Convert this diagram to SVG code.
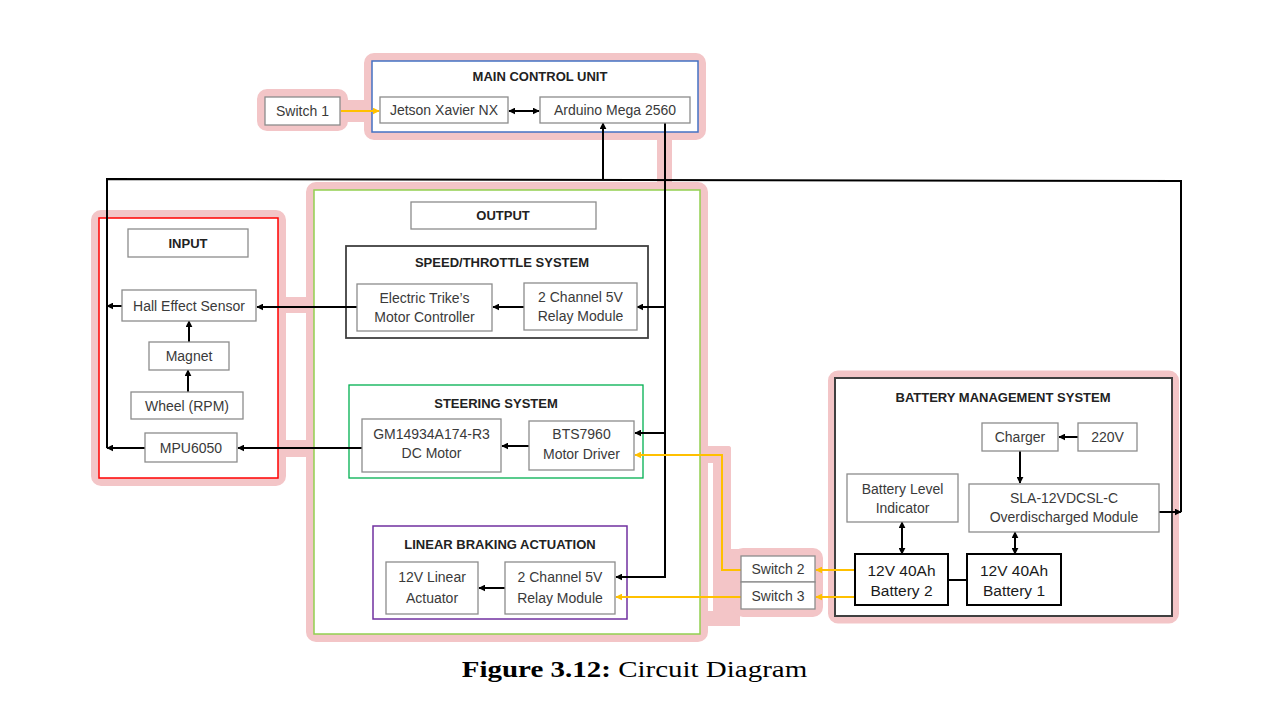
<svg xmlns="http://www.w3.org/2000/svg" width="1283" height="706" viewBox="0 0 1283 706">
<defs>
<style>
.box{fill:#fff;stroke:#8c8c8c;stroke-width:1.3}
.t{font-family:"Liberation Sans",Arial,sans-serif;font-size:14px;fill:#3a3a3a;text-anchor:middle;dominant-baseline:central}
.tb{font-weight:bold;font-size:13px;fill:#222}
.bt{font-size:15.5px;fill:#1a1a1a}
.pink{fill:none;stroke:#f3c5c7;stroke-width:8}
.pinkf{fill:#f3c5c7}
.c{fill:none;stroke:#000;stroke-width:2}
.cy{fill:none;stroke:#ffc000;stroke-width:2}
</style>
<marker id="ah" viewBox="0 0 10 10" refX="9" refY="5" markerWidth="7" markerHeight="7" markerUnits="userSpaceOnUse" orient="auto-start-reverse"><path d="M0,0 L10,5 L0,10 z" fill="#000"/></marker>
<marker id="ay" viewBox="0 0 10 10" refX="9" refY="5" markerWidth="7" markerHeight="7" markerUnits="userSpaceOnUse" orient="auto"><path d="M0,0 L10,5 L0,10 z" fill="#ffc000"/></marker>
</defs>
<rect width="1283" height="706" fill="#fff"/>

<g id="highlights">
<rect class="pink" x="368" y="57" width="334" height="79" rx="6"/>
<rect class="pink" x="261" y="93" width="83" height="34" rx="6"/>
<rect class="pinkf" x="344" y="100" width="26" height="22"/>
<rect class="pinkf" x="657" y="134" width="15" height="56"/>
<rect class="pink" x="95" y="214" width="187" height="268" rx="6"/>
<rect class="pinkf" x="280" y="297" width="32" height="16"/>
<rect class="pinkf" x="280" y="440" width="32" height="17"/>
<rect class="pink" x="310" y="186" width="394" height="452" rx="6"/>
<rect class="pinkf" x="704" y="446" width="27" height="17" rx="3"/>
<rect class="pinkf" x="713" y="446" width="18" height="115" rx="3"/>
<rect class="pinkf" x="713" y="549" width="27" height="76"/>
<rect class="pinkf" x="704" y="611" width="36" height="15"/>
<rect class="pink" x="737" y="552" width="82" height="61" rx="6"/>
<rect class="pink" x="832" y="374.5" width="343" height="245" rx="6"/>
</g>

<g id="main-control-unit">
<rect x="372" y="61" width="326" height="71" fill="#fff" stroke="#4472c4" stroke-width="1.5"/>
<text class="t tb" x="540" y="76">MAIN CONTROL UNIT</text>
</g>
<g id="input">
<rect x="99" y="218" width="179" height="260" fill="#fff" stroke="#ff0000" stroke-width="1.5"/>
</g>
<g id="output">
<rect x="314" y="190" width="386" height="444" fill="#fff" stroke="#92d050" stroke-width="1.5"/>
</g>
<g id="speed-throttle-system">
<rect x="346" y="246" width="302" height="92" fill="#fff" stroke="#404040" stroke-width="1.8"/>
<text class="t tb" x="502" y="262">SPEED/THROTTLE SYSTEM</text>
</g>
<g id="steering-system">
<rect x="349" y="385" width="294" height="93" fill="#fff" stroke="#00b050" stroke-width="1.3"/>
<text class="t tb" x="496" y="403">STEERING SYSTEM</text>
</g>
<g id="linear-braking-actuation">
<rect x="373" y="526" width="254" height="93" fill="#fff" stroke="#7030a0" stroke-width="1.5"/>
<text class="t tb" x="500" y="544">LINEAR BRAKING ACTUATION</text>
</g>
<g id="battery-management-system">
<rect x="835" y="378" width="337" height="238" fill="#fff" stroke="#404040" stroke-width="2"/>
<text class="t tb" x="1003" y="397">BATTERY MANAGEMENT SYSTEM</text>
</g>

<g id="connectors">
<path class="cy" d="M341,111 H379" marker-end="url(#ay)"/>
<path class="c" d="M509,111 H539" marker-start="url(#ah)" marker-end="url(#ah)"/>
<path class="c" d="M603,180 V123" stroke-width="2.4" marker-end="url(#ah)"/>
<path class="c" d="M107,448 V179 L1181,181 V512"/>
<path class="c" d="M122,306 H107" marker-end="url(#ah)"/>
<path class="c" d="M145,448 H107" marker-end="url(#ah)"/>
<path class="c" d="M665,123 V577 H616" stroke-width="1.6" marker-end="url(#ah)"/>
<path class="c" d="M665,307 H637" marker-end="url(#ah)"/>
<path class="c" d="M665,433 H635" marker-end="url(#ah)"/>
<path class="c" d="M524,307 H493" marker-end="url(#ah)"/>
<path class="c" d="M357,307 H257" marker-end="url(#ah)"/>
<path class="c" d="M189,342 V321" marker-end="url(#ah)"/>
<path class="c" d="M188,392 V370" marker-end="url(#ah)"/>
<path class="c" d="M529,446 H502" marker-end="url(#ah)"/>
<path class="c" d="M362,448 H238" marker-end="url(#ah)"/>
<path class="cy" d="M741,570 H722 V455 H635" marker-end="url(#ay)"/>
<path class="cy" d="M741,597 H616" marker-end="url(#ay)"/>
<path class="c" d="M505,588 H479" marker-end="url(#ah)"/>
<path class="c" d="M1078,437 H1059" marker-end="url(#ah)"/>
<path class="c" d="M1020,451 V483" marker-end="url(#ah)"/>
<path class="c" d="M1159,512 H1181" marker-end="url(#ah)"/>
<path class="c" d="M902,522 V554" marker-start="url(#ah)" marker-end="url(#ah)"/>
<path class="c" d="M1015,532 V554" marker-start="url(#ah)" marker-end="url(#ah)"/>
<path class="cy" d="M855,570 H816" marker-end="url(#ay)"/>
<path class="cy" d="M855,597 H816" marker-end="url(#ay)"/>
<path class="c" d="M948,580 H967"/>
</g>

<g id="switch-1"><rect class="box" x="265" y="97" width="75" height="28"/><text class="t" x="302.5" y="111">Switch 1</text></g>
<g id="jetson"><rect class="box" x="380" y="97" width="128" height="26"/><text class="t" x="444" y="110">Jetson Xavier NX</text></g>
<g id="arduino"><rect class="box" x="540" y="97" width="150" height="26"/><text class="t" x="615" y="110">Arduino Mega 2560</text></g>

<g id="input-label"><rect class="box" x="128" y="229" width="120" height="28"/><text class="t tb" x="188" y="243">INPUT</text></g>
<g id="hall-effect-sensor"><rect class="box" x="122" y="290" width="134" height="31"/><text class="t" x="189" y="305.5">Hall Effect Sensor</text></g>
<g id="magnet"><rect class="box" x="149" y="342" width="80" height="28"/><text class="t" x="189" y="356">Magnet</text></g>
<g id="wheel"><rect class="box" x="131" y="392" width="112" height="27"/><text class="t" x="187" y="405.5">Wheel (RPM)</text></g>
<g id="mpu6050"><rect class="box" x="145" y="433" width="92" height="29"/><text class="t" x="191" y="447.5">MPU6050</text></g>

<g id="output-label"><rect class="box" x="411" y="202" width="185" height="27"/><text class="t tb" x="503" y="215.5">OUTPUT</text></g>
<g id="motor-controller"><rect class="box" x="357" y="284" width="135" height="47"/><text class="t" x="424.5" y="298">Electric Trike’s</text><text class="t" x="424.5" y="317">Motor Controller</text></g>
<g id="relay-module-1"><rect class="box" x="524" y="283" width="113" height="47"/><text class="t" x="580.5" y="297">2 Channel 5V</text><text class="t" x="580.5" y="316">Relay Module</text></g>
<g id="dc-motor"><rect class="box" x="362" y="419" width="139" height="53"/><text class="t" x="431.5" y="434">GM14934A174-R3</text><text class="t" x="431.5" y="453">DC Motor</text></g>
<g id="bts7960"><rect class="box" x="529" y="421" width="105" height="49"/><text class="t" x="581.5" y="434">BTS7960</text><text class="t" x="581.5" y="454">Motor Driver</text></g>
<g id="linear-actuator"><rect class="box" x="386" y="562" width="92" height="52"/><text class="t" x="432" y="577">12V Linear</text><text class="t" x="432" y="598">Actuator</text></g>
<g id="relay-module-2"><rect class="box" x="505" y="562" width="110" height="52"/><text class="t" x="560" y="577">2 Channel 5V</text><text class="t" x="560" y="598">Relay Module</text></g>

<g id="switch-2"><rect class="box" x="741" y="556" width="74" height="26"/><text class="t" x="778" y="569">Switch 2</text></g>
<g id="switch-3"><rect class="box" x="741" y="582" width="74" height="27"/><text class="t" x="778" y="595.5">Switch 3</text></g>

<g id="charger"><rect class="box" x="982" y="423" width="76" height="28"/><text class="t" x="1020" y="437">Charger</text></g>
<g id="v220"><rect class="box" x="1078" y="423" width="59" height="28"/><text class="t" x="1107.5" y="437">220V</text></g>
<g id="battery-level-indicator"><rect class="box" x="847" y="474" width="111" height="48"/><text class="t" x="902.5" y="489">Battery Level</text><text class="t" x="902.5" y="508">Indicator</text></g>
<g id="sla-module"><rect class="box" x="969" y="484" width="190" height="48"/><text class="t" x="1064" y="498">SLA-12VDCSL-C</text><text class="t" x="1064" y="517">Overdischarged Module</text></g>
<g id="battery-2"><rect x="855" y="554" width="93" height="51" fill="#fff" stroke="#000" stroke-width="2"/><text class="t bt" x="901.5" y="570">12V 40Ah</text><text class="t bt" x="901.5" y="590">Battery 2</text></g>
<g id="battery-1"><rect x="967" y="554" width="94" height="51" fill="#fff" stroke="#000" stroke-width="2"/><text class="t bt" x="1014" y="570">12V 40Ah</text><text class="t bt" x="1014" y="590">Battery 1</text></g>

<g id="caption">
<text transform="translate(634.5,677) scale(1.26,1)" text-anchor="middle" font-family="'Liberation Serif','Times New Roman',serif" font-size="23" fill="#000"><tspan font-weight="bold">Figure 3.12:</tspan> Circuit Diagram</text>
</g>
</svg>
